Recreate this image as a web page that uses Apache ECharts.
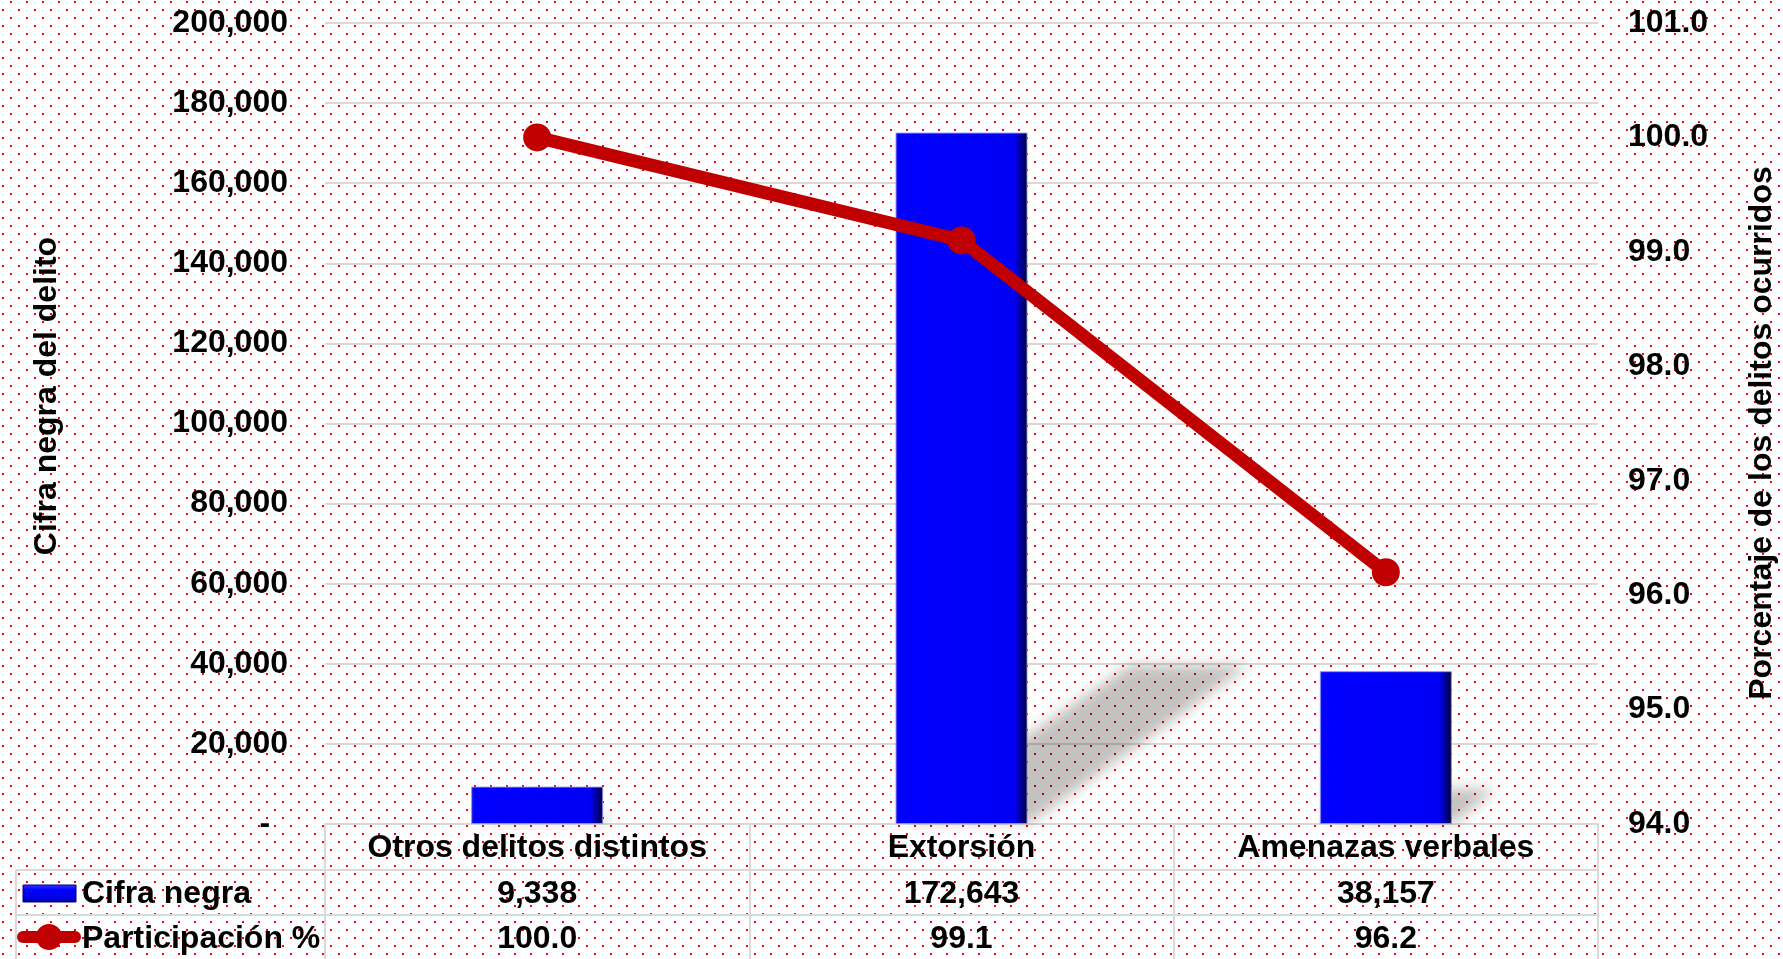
<!DOCTYPE html>
<html>
<head>
<meta charset="utf-8">
<script src="https://cdn.jsdelivr.net/npm/echarts@6/dist/echarts.min.js"></script>
<style>
html,body{margin:0;padding:0;background:#fff;}
#chart{width:1783px;height:959px;}
</style>
</head>
<body>
<div id="chart"></div>
<script>
// ---- data ----
const categories = ['Otros delitos distintos', 'Extorsión', 'Amenazas verbales'];
const barName = 'Cifra negra';
const lineName = 'Participación %';
const barValues = [9338, 172643, 38157];
const pctValues = [100.0, 99.1, 96.2];
const leftTitle = 'Cifra negra del delito';
const rightTitle = 'Porcentaje de los delitos ocurridos';

// ---- helpers ----
const FONT = "'Liberation Sans', Arial, sans-serif";
const fmtInt = v => Math.round(v).toLocaleString('en-US');
const fmtPct = v => v.toFixed(1);
const GRID_GRAY = '#d9d9d9';

// dotted background pattern
const pat = document.createElement('canvas');
pat.width = 16; pat.height = 16;
const pc = pat.getContext('2d');
pc.fillStyle = '#ffffff'; pc.fillRect(0, 0, 16, 16);
pc.fillStyle = '#ff0000';
pc.fillRect(10, 1, 2, 2);
pc.fillRect(2, 9, 2, 2);

const barFill = new echarts.graphic.LinearGradient(0, 0, 1, 0, [
  {offset: 0, color: '#1c1cc8'},
  {offset: 0.025, color: '#0000ff'},
  {offset: 0.9, color: '#0000f4'},
  {offset: 0.96, color: '#00008a'},
  {offset: 1, color: '#000028'}
]);

const labelStyle = {color: '#000', fontSize: 32, fontWeight: 'bold', fontFamily: FONT};

const chart = echarts.init(document.getElementById('chart'), null, {renderer: 'canvas'});

const SHIFT = 4000; // draw shape off-screen, keep only its blurred shadow

const option = {
  backgroundColor: {image: pat, repeat: 'repeat'},
  animation: false,
  grid: {left: 325, right: 185, top: 23, bottom: 135, containLabel: false},
  xAxis: [
    {
      type: 'category', data: categories, position: 'bottom',
      axisLine: {show: true, lineStyle: {color: GRID_GRAY, width: 2}},
      axisTick: {show: true, length: 136, interval: 0, lineStyle: {color: GRID_GRAY, width: 2}},
      axisLabel: Object.assign({interval: 0, margin: 8}, labelStyle),
      splitLine: {show: false}
    },
    {
      type: 'category', data: categories, position: 'bottom', offset: 46,
      axisLine: {show: true, lineStyle: {color: GRID_GRAY, width: 2}},
      axisTick: {show: false},
      axisLabel: Object.assign({interval: 0, margin: 8, formatter: (v, i) => fmtInt(barValues[i])}, labelStyle),
      splitLine: {show: false}
    },
    {
      type: 'category', data: categories, position: 'bottom', offset: 91,
      axisLine: {show: true, lineStyle: {color: GRID_GRAY, width: 2}},
      axisTick: {show: false},
      axisLabel: Object.assign({interval: 0, margin: 8, formatter: (v, i) => fmtPct(pctValues[i])}, labelStyle),
      splitLine: {show: false}
    }
  ],
  yAxis: [
    {
      type: 'value', min: 0, max: 200000, interval: 20000, position: 'left',
      axisLine: {show: false}, axisTick: {show: false},
      axisLabel: Object.assign({margin: 37, formatter: v => v === 0 ? '-  ' : fmtInt(v)}, labelStyle),
      splitLine: {show: true, lineStyle: {color: GRID_GRAY, width: 2}}
    },
    {
      type: 'value', min: 94, max: 101, interval: 1, position: 'right',
      axisLine: {show: false}, axisTick: {show: false},
      axisLabel: Object.assign({margin: 30, formatter: v => fmtPct(v)}, labelStyle),
      splitLine: {show: false}
    }
  ],
  series: [
    {
      name: 'sombra', type: 'custom', xAxisIndex: 0, yAxisIndex: 0, z: 1, silent: true, clip: false,
      data: barValues.map((v, i) => [i, v]),
      renderItem: function (params, api) {
        const i = api.value(0), v = api.value(1);
        const base = api.coord([i, 0]);
        const top = api.coord([i, v]);
        const half = 60;
        const h = base[1] - top[1];
        const dx = 0.33 * h, dy = 0.23 * h;
        const bx = base[0] - SHIFT;
        return {
          type: 'polygon',
          shape: {points: [
            [bx - half, base[1] - 2],
            [bx + half + 10, base[1] - 2],
            [bx + half + dx, base[1] - dy],
            [bx - half + dx, base[1] - dy]
          ]},
          style: {fill: '#000', shadowBlur: 14, shadowColor: 'rgba(0,0,0,0.24)', shadowOffsetX: SHIFT, shadowOffsetY: 0}
        };
      }
    },
    {
      name: barName, type: 'bar', xAxisIndex: 0, yAxisIndex: 0, z: 2,
      data: barValues, barWidth: 132,
      itemStyle: {color: barFill, borderColor: 'rgba(140,140,255,0.9)', borderWidth: 1}
    },
    {
      name: lineName, type: 'line', xAxisIndex: 0, yAxisIndex: 1, z: 5,
      data: pctValues, symbol: 'circle', symbolSize: 28,
      itemStyle: {color: '#c00000'},
      lineStyle: {color: '#c00000', width: 13}
    }
  ],
  graphic: [
    // axis titles
    {type: 'text', x: 47, y: 396, rotation: Math.PI / 2,
      style: {text: leftTitle, fill: '#000', font: "bold 32px " + FONT, align: 'center', verticalAlign: 'middle'}},
    {type: 'text', x: 1762, y: 433, rotation: Math.PI / 2,
      style: {text: rightTitle, fill: '#000', font: "bold 32px " + FONT, align: 'center', verticalAlign: 'middle'}},
    // table legend cells
    {type: 'line', shape: {x1: 16, y1: 870, x2: 325, y2: 870}, style: {stroke: GRID_GRAY, lineWidth: 2}},
    {type: 'line', shape: {x1: 16, y1: 915, x2: 325, y2: 915}, style: {stroke: GRID_GRAY, lineWidth: 2}},
    {type: 'line', shape: {x1: 16, y1: 870, x2: 16, y2: 959}, style: {stroke: GRID_GRAY, lineWidth: 2}},
    // legend keys
    {type: 'rect', shape: {x: 23, y: 885, width: 53, height: 17},
      style: {fill: new echarts.graphic.LinearGradient(0, 0, 0, 1, [
        {offset: 0, color: '#3a3aff'}, {offset: 0.3, color: '#0000ff'},
        {offset: 0.8, color: '#0000e0'}, {offset: 1, color: '#00006a'}]), stroke: '#000080', lineWidth: 1}},
    {type: 'text', x: 82, y: 894, style: {text: barName, fill: '#000', font: "bold 32px " + FONT, verticalAlign: 'middle'}},
    {type: 'line', shape: {x1: 23, y1: 937, x2: 75, y2: 937}, style: {stroke: '#c00000', lineWidth: 12, lineCap: 'round'}},
    {type: 'circle', shape: {cx: 49, cy: 937, r: 13}, style: {fill: '#c00000'}},
    {type: 'text', x: 82, y: 939, style: {text: lineName, fill: '#000', font: "bold 32px " + FONT, verticalAlign: 'middle'}}
  ]
};

chart.setOption(option);
</script>
</body>
</html>
